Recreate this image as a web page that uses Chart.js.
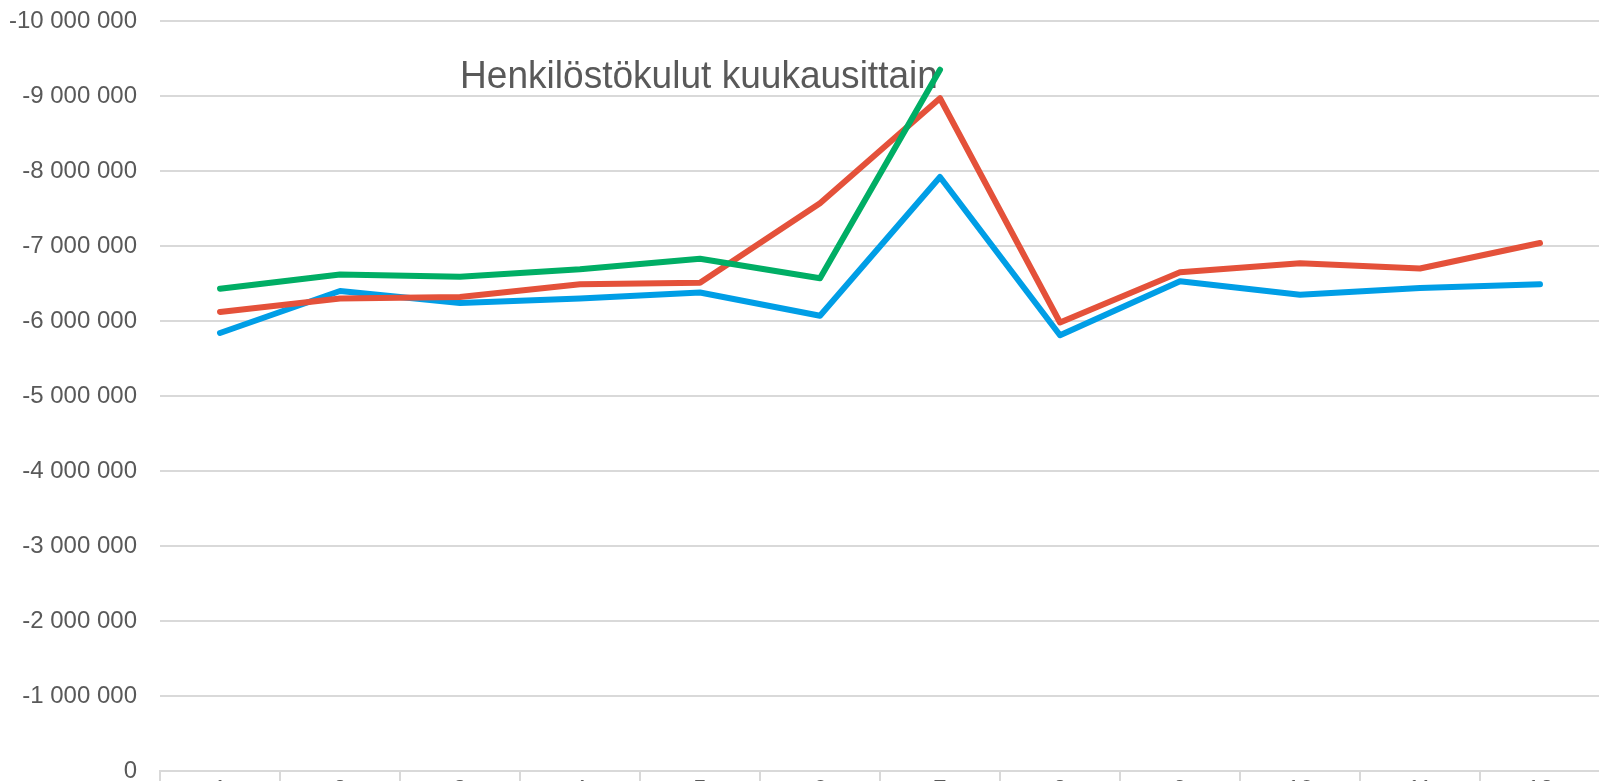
<!DOCTYPE html>
<html>
<head>
<meta charset="utf-8">
<title>Henkilöstökulut kuukausittain</title>
<script src="https://cdn.jsdelivr.net/npm/chart.js@4/dist/chart.umd.min.js"></script>
<style>
  html, body { margin: 0; padding: 0; background: #fff; overflow: hidden; }
  canvas { display: block; }
</style>
</head>
<body>
<canvas id="chart" width="1600" height="830"></canvas>
<script>
// data
const chartTitle = 'Henkilöstökulut kuukausittain';
const months = ['1', '2', '3', '4', '5', '6', '7', '8', '9', '10', '11', '12'];

const seriesBlue  = [-5840000, -6400000, -6240000, -6300000, -6380000, -6070000, -7920000, -5810000, -6530000, -6350000, -6440000, -6490000];
const seriesRed   = [-6120000, -6300000, -6320000, -6490000, -6510000, -7570000, -8970000, -5980000, -6650000, -6770000, -6700000, -7040000];
const seriesGreen = [-6430000, -6620000, -6590000, -6690000, -6830000, -6570000, -9350000, null, null, null, null, null];

const yMin = -10000000;
const yMax = 0;
const yStep = 1000000;

// formatting
function formatNumber(v) {
  const sign = v < 0 ? '-' : '';
  return sign + String(Math.abs(v)).replace(/\B(?=(\d{3})+(?!\d))/g, ' ');
}

// title drawn under the lines
const titleBehind = {
  id: 'titleBehind',
  beforeDatasetsDraw(chart) {
    const ctx = chart.ctx;
    ctx.save();
    ctx.translate(699, 88);
    ctx.scale(0.95, 1);
    ctx.font = '39px "Liberation Sans", Arial, sans-serif';
    ctx.fillStyle = '#595959';
    ctx.textAlign = 'center';
    ctx.textBaseline = 'alphabetic';
    ctx.fillText(chartTitle, 0, 0);
    ctx.restore();
  }
};

function makeLine(data, color) {
  return {
    data,
    borderColor: color,
    backgroundColor: color,
    borderWidth: 6,
    pointRadius: 0,
    pointHoverRadius: 0,
    tension: 0,
    fill: false,
    borderCapStyle: 'round',
    borderJoinStyle: 'round'
  };
}

new Chart(document.getElementById('chart'), {
  type: 'line',
  data: {
    labels: months,
    datasets: [
      makeLine(seriesGreen, '#00AE65'),
      makeLine(seriesRed, '#E4513A'),
      makeLine(seriesBlue, '#009EE6')
    ]
  },
  plugins: [titleBehind],
  options: {
    responsive: false,
    animation: false,
    layout: { padding: { top: 21, left: 0, right: 0, bottom: 0 } },
    plugins: {
      legend: { display: false },
      title: { display: false },
      tooltip: { enabled: false }
    },
    scales: {
      x: {
        offset: true,
        grid: {
          offset: true,
          drawOnChartArea: false,
          drawTicks: true,
          tickLength: 14,
          color: '#d9d9d9',
          lineWidth: 2
        },
        border: { display: true, color: '#d9d9d9', width: 2 },
        ticks: {
          color: '#595959',
          padding: -9,
          maxRotation: 0,
          font: { family: '"Liberation Sans", Arial, sans-serif', size: 24 }
        },
        afterFit(scale) { scale.height = 59; }
      },
      y: {
        reverse: true,
        min: yMin,
        max: yMax,
        grid: { color: '#d9d9d9', lineWidth: 2, drawTicks: false },
        border: { display: false },
        ticks: {
          stepSize: yStep,
          color: '#595959',
          padding: 23,
          font: { family: '"Liberation Sans", Arial, sans-serif', size: 24 },
          callback: v => formatNumber(v)
        },
        afterFit(scale) {
          scale.width = 160;
          scale.paddingTop = 0;
          scale.paddingBottom = 0;
        }
      }
    }
  }
});
</script>
</body>
</html>
